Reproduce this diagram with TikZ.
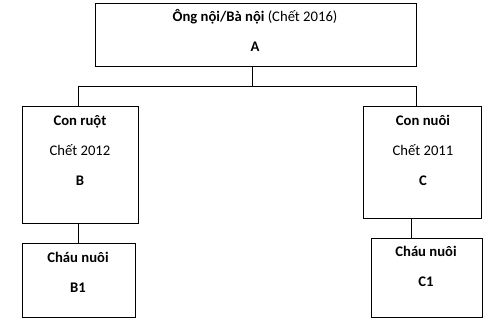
\documentclass[tikz,border=0pt]{standalone}
\usepackage{fontspec}
\setmainfont{Carlito}
\usetikzlibrary{positioning}

\begin{document}
\begin{tikzpicture}[
  x=0.75pt, y=-0.75pt,
  font=\fontsize{11}{22.5}\selectfont,
  box/.style={draw, line width=0.75pt, inner sep=0pt},
  txt/.style={align=center, anchor=base, inner sep=0pt},
  link/.style={line width=0.75pt}
]
\useasboundingbox (0,0) rectangle (498,327);
% boxes
\node[box, minimum width=240.75pt, minimum height=47.25pt] (a) at (255.5,35.5) {};
\node[box, minimum width=87pt, minimum height=87pt] (b) at (80,165) {};
\node[box, minimum width=84.75pt, minimum height=55.5pt] (b1) at (78.5,280) {};
\node[box, minimum width=88.5pt, minimum height=83.25pt] (c) at (422,162.5) {};
\node[box, minimum width=83.25pt, minimum height=59.25pt] (c1) at (426.5,277.5) {};
% texts (base = last line)
\node[txt] (ta) at (255,52) {\textbf{Ông nội/Bà nội} (Chết 2016)\\\textbf{A}};
\node[txt] (tb) at (80,186) {\textbf{Con ruột}\\Chết 2012\\\textbf{B}};
\node[txt] (tb1) at (78,292) {\textbf{Cháu nuôi}\\\textbf{B1}};
\node[txt] (tc) at (423,186) {\textbf{Con nuôi}\\Chết 2011\\\textbf{C}};
\node[txt] (tc1) at (426,286.5) {\textbf{Cháu nuôi}\\\textbf{C1}};
% connectors
\coordinate (ja) at (252,87);
\coordinate (jb) at (78,87);
\coordinate (jc) at (416,87);
\coordinate (jd) at (411,230);
\draw[link] (a.south -| ja) -- (ja);
\draw[link] (b.north -| jb) -- (jb) -- (jc) -- (c.north -| jc);
\draw[link] (b.south -| jb) -- (b1.north -| jb);
\draw[link] (c.south -| jd) -- (c1.north -| jd);
\end{tikzpicture}
\end{document}
